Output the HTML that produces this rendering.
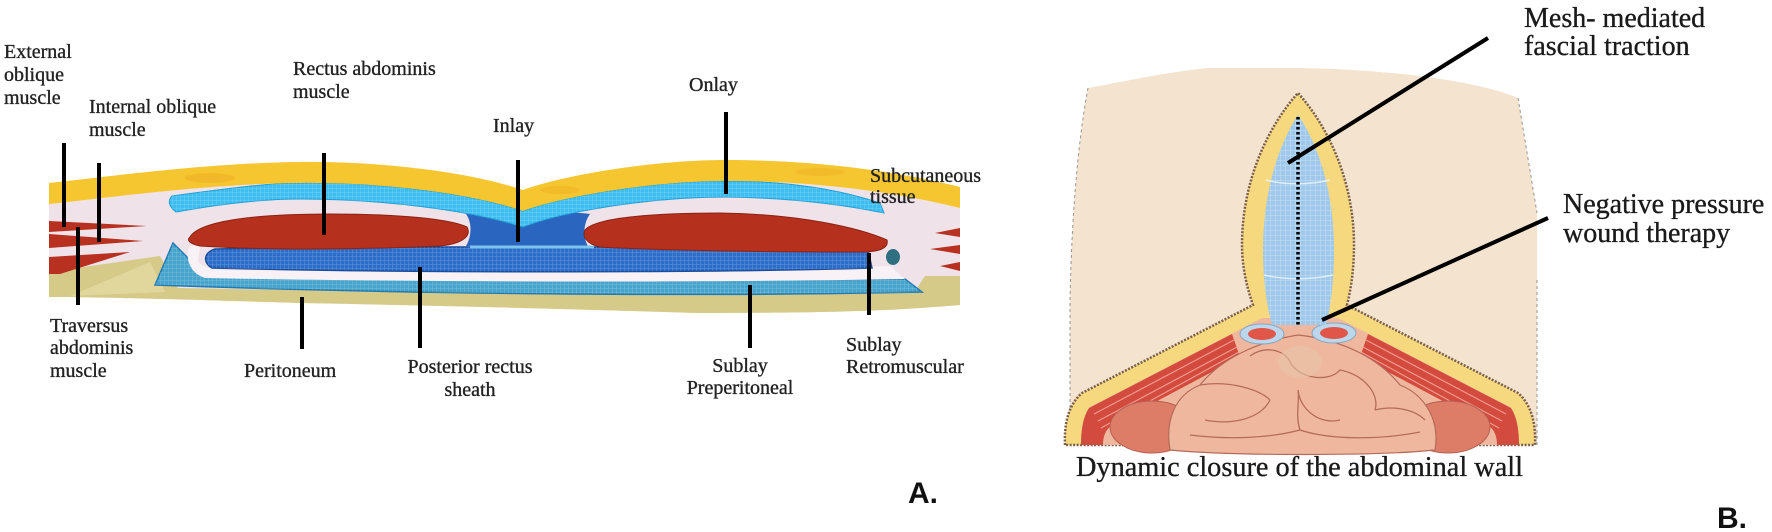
<!DOCTYPE html>
<html>
<head>
<meta charset="utf-8">
<style>
  html,body{margin:0;padding:0;background:#fff;}
  svg{display:block;}
  .lb{font-family:"Liberation Serif",serif;font-size:20px;fill:#222;stroke:#222;stroke-width:0.35;}
  .lb2{font-family:"Liberation Serif",serif;font-size:28px;fill:#1a1a1a;stroke:#1a1a1a;stroke-width:0.35;}
  .tag{font-family:"Liberation Sans",sans-serif;font-size:30px;font-weight:bold;fill:#111;}
</style>
</head>
<body>
<svg width="1772" height="532" viewBox="0 0 1772 532" xmlns="http://www.w3.org/2000/svg">
  <defs>
    <pattern id="mesh" width="4" height="4" patternUnits="userSpaceOnUse">
      <rect width="4" height="4" fill="none"/>
      <path d="M0 0H4M0 0V4" stroke="#ffffff" stroke-opacity="0.25" stroke-width="1"/>
    </pattern>
    <pattern id="meshb" width="5" height="5" patternUnits="userSpaceOnUse">
      <path d="M0 0H5M0 0V5" stroke="#e6f2fb" stroke-opacity="0.55" stroke-width="1"/>
    </pattern>
  </defs>

  <!-- ================= PANEL A ================= -->
  <path d="M49,200 C100,199 200,184 300,183 C380,182 470,193 523,211 C560,197 650,181 726,181 C820,181 900,193 960,207 L960,305 C900,310 850,313 700,313 C600,310 460,306 300,303 C200,300 100,297 49,297 Z" fill="#efe2e9"/>
  <path d="M49,272 L160,256 L178,288 C400,292 700,296 915,291 L925,276 L960,276 L960,305 C900,310 850,313 700,313 C600,310 460,306 300,303 C200,300 100,297 49,297 Z" fill="#d5ca88"/>
  <path d="M70,296 L150,262 L165,292 Z" fill="#e3d9a2" opacity="0.8"/>
  <path d="M173,243 L192,262 L205,277 C400,280 700,282 905,279 L922,292 C700,297 400,294 155,285 Z" fill="#47a4cc" stroke="#1f79b0" stroke-width="1.5"/>
  <path d="M173,243 L192,262 L205,277 C400,280 700,282 905,279 L922,292 C700,297 400,294 155,285 Z" fill="url(#mesh)"/>
  <path d="M198,262 C205,268 215,270 230,270 C400,272 700,273 890,266 L905,279 C700,283 400,282 205,278 C192,274 186,262 188,250 C190,245 196,244 200,246 Z" fill="#f8f2f6"/>
  <path d="M215,249 C400,246 700,246 868,250 L872,268 C700,273 400,273 212,268 C203,263 203,253 215,249 Z" fill="#2b6dc9" stroke="#1a4c9c" stroke-width="1.5"/>
  <path d="M215,249 C400,246 700,246 868,250 L872,268 C700,273 400,273 212,268 C203,263 203,253 215,249 Z" fill="url(#mesh)"/>
  <path d="M466,214 C490,210 560,210 590,214 C584,222 582,236 588,246 L466,246 C472,236 472,222 466,214 Z" fill="#2a66c0"/>
  <path d="M470,247 L594,247" stroke="#7cc4ee" stroke-width="3"/>
  <path d="M190,237 C200,220 260,214 330,214 C400,214 450,219 467,227 C472,236 462,244 440,246 C350,250 260,250 200,246 C190,244 186,240 190,237 Z" fill="#b5301d" stroke="#8d2214" stroke-width="1"/>
  <path d="M585,230 C595,218 650,213 720,213 C800,214 860,228 887,240 C889,248 880,252 860,252 C750,252 650,250 600,247 C586,244 582,236 585,230 Z" fill="#b5301d" stroke="#8d2214" stroke-width="1"/>
  <path d="M49,221 L147,226 L49,232 Z" fill="#b83020"/>
  <path d="M49,234 L143,241 L49,248 Z" fill="#b83020"/>
  <path d="M49,257 L130,252 L60,274 L49,274 Z" fill="#b83020"/>
  <path d="M960,228 L935,233 L960,237 Z" fill="#b83020"/>
  <path d="M960,245 L930,249 L960,254 Z" fill="#b83020"/>
  <path d="M960,262 L940,266 L960,271 Z" fill="#b83020"/>
  <ellipse cx="893" cy="257" rx="7" ry="8" fill="#2e6f80"/>
  <path d="M172,196 C230,188 270,183 300,183 C380,182 470,193 523,211 C560,197 650,181 726,181 C800,181 850,193 880,203 L884,213 C850,206 800,198 726,197 C650,197 560,212 523,227 C470,210 380,199 300,199 C260,199 220,204 176,212 C168,206 168,200 172,196 Z" fill="#3dbdf0" stroke="#1e9fd6" stroke-width="1"/>
  <path d="M172,196 C230,188 270,183 300,183 C380,182 470,193 523,211 C560,197 650,181 726,181 C800,181 850,193 880,203 L884,213 C850,206 800,198 726,197 C650,197 560,212 523,227 C470,210 380,199 300,199 C260,199 220,204 176,212 C168,206 168,200 172,196 Z" fill="url(#mesh)"/>
  <path d="M49,183 C100,178 200,163 300,162 C380,161 470,172 523,190 C560,176 650,160 726,160 C820,160 900,172 960,187 L960,208 C900,193 820,181 726,181 C650,181 560,197 523,211 C470,193 380,182 300,183 C200,184 100,199 49,204 Z" fill="#f6c631"/>
  <ellipse cx="210" cy="178" rx="25" ry="5" fill="#eeb024" opacity="0.6"/>
  <ellipse cx="560" cy="190" rx="20" ry="4" fill="#eeb024" opacity="0.5"/>
  <ellipse cx="820" cy="172" rx="25" ry="4" fill="#eeb024" opacity="0.5"/>

  <g stroke="#000" stroke-width="4" stroke-linecap="butt">
    <line x1="64" y1="143" x2="64" y2="227"/>
    <line x1="99" y1="163" x2="99" y2="242"/>
    <line x1="78" y1="227" x2="78" y2="305"/>
    <line x1="324" y1="153" x2="324" y2="235"/>
    <line x1="518" y1="160" x2="518" y2="242"/>
    <line x1="726" y1="112" x2="726" y2="194"/>
    <line x1="302" y1="297" x2="302" y2="349"/>
    <line x1="420" y1="267" x2="420" y2="348"/>
    <line x1="750" y1="285" x2="750" y2="348"/>
    <line x1="869" y1="253" x2="869" y2="315"/>
  </g>

  <text class="lb" x="4" y="58">External</text>
  <text class="lb" x="4" y="81">oblique</text>
  <text class="lb" x="4" y="104">muscle</text>
  <text class="lb" x="89" y="113">Internal oblique</text>
  <text class="lb" x="89" y="136">muscle</text>
  <text class="lb" x="293" y="75">Rectus abdominis</text>
  <text class="lb" x="293" y="98">muscle</text>
  <text class="lb" x="493" y="132">Inlay</text>
  <text class="lb" x="689" y="91">Onlay</text>
  <text class="lb" x="870" y="182">Subcutaneous</text>
  <text class="lb" x="870" y="203">tissue</text>
  <text class="lb" x="50" y="332">Traversus</text>
  <text class="lb" x="50" y="354">abdominis</text>
  <text class="lb" x="50" y="377">muscle</text>
  <text class="lb" x="244" y="377">Peritoneum</text>
  <text class="lb" x="470" y="373" text-anchor="middle">Posterior rectus</text>
  <text class="lb" x="470" y="396" text-anchor="middle">sheath</text>
  <text class="lb" x="740" y="372" text-anchor="middle">Sublay</text>
  <text class="lb" x="740" y="394" text-anchor="middle">Preperitoneal</text>
  <text class="lb" x="846" y="351">Sublay</text>
  <text class="lb" x="846" y="373">Retromuscular</text>
  <text class="tag" x="908" y="503">A.</text>

  <!-- ================= PANEL B ================= -->
  <path d="M1088,88 C1130,80 1170,72 1207,68 L1300,68 C1400,70 1480,82 1518,98 L1537,213 L1537,445 L1070,445 L1070,300 C1072,200 1080,130 1088,88 Z" fill="#f3e3cf"/>
  <path d="M1088,88 C1080,130 1072,200 1070,300 L1070,445" fill="none" stroke="#9a9490" stroke-width="1" stroke-dasharray="3 3"/>
  <path d="M1518,98 L1537,213 M1537,280 L1537,445" fill="none" stroke="#9a9490" stroke-width="1" stroke-dasharray="3 3"/>

  <path d="M1065,445 C1064,425 1068,405 1082,393 L1253,305 C1246,285 1242,265 1242,245 C1242,185 1265,130 1298,93 C1331,130 1354,185 1354,245 C1354,265 1352,285 1347,305 L1518,393 C1532,405 1536,425 1535,445 Z" fill="#f6d97e" stroke="#7a5e4c" stroke-width="2.5" stroke-dasharray="2 1.5"/>
  <path d="M1081,445 C1081,430 1083,415 1090,407 L1262,318 L1338,318 L1510,407 C1517,415 1519,430 1519,445 Z" fill="#efb79e"/>
  <path d="M1232,334 L1089,408 C1083,417 1081,430 1081,445 L1103,445 C1103,437 1105,430 1112,425 L1240,357 Z" fill="#d34a3e"/>
  <path d="M1234,340 L1094,414 M1237,347 L1098,421 M1239,352 L1101,428" stroke="#f09a8c" stroke-width="1.2" fill="none"/>
  <path d="M1368,334 L1511,408 C1517,417 1519,430 1519,445 L1497,445 C1497,437 1495,430 1488,425 L1360,357 Z" fill="#d34a3e"/>
  <path d="M1366,340 L1506,414 M1363,347 L1502,421 M1361,352 L1499,428" stroke="#f09a8c" stroke-width="1.2" fill="none"/>
  <ellipse cx="1152" cy="427" rx="42" ry="26" fill="#dd7c67" stroke="#b45f50" stroke-width="1"/>
  <ellipse cx="1448" cy="427" rx="42" ry="26" fill="#dd7c67" stroke="#b45f50" stroke-width="1"/>
  <path d="M1170,450 C1165,420 1175,395 1200,385 C1220,360 1255,342 1298,335 C1345,340 1380,360 1400,385 C1425,395 1440,420 1435,450 C1380,456 1230,456 1170,450 Z" fill="#efb79e" stroke="#b46c5a" stroke-width="1.2"/>
  <g fill="none" stroke="#b46c5a" stroke-width="1.3">
    <path d="M1200,385 C1230,380 1260,390 1270,400"/>
    <path d="M1250,356 C1265,345 1285,350 1290,362 C1300,380 1330,382 1340,370"/>
    <path d="M1270,400 C1260,420 1230,425 1205,420"/>
    <path d="M1298,390 C1300,410 1320,425 1340,420"/>
    <path d="M1340,370 C1365,375 1380,395 1375,410"/>
    <path d="M1190,435 C1230,440 1270,438 1300,430 C1330,440 1380,440 1420,432"/>
    <path d="M1375,410 C1395,405 1415,410 1425,420"/>
    <path d="M1300,430 C1295,415 1300,400 1298,390"/>
  </g>
  <ellipse cx="1300" cy="362" rx="22" ry="16" fill="#e8c4a8" opacity="0.6"/>
  <ellipse cx="1262" cy="334" rx="22" ry="10" fill="#bcd7ec" stroke="#8aa6c0" stroke-width="1"/>
  <ellipse cx="1262" cy="334" rx="14" ry="6" fill="#e0574a"/>
  <ellipse cx="1334" cy="333" rx="22" ry="10" fill="#bcd7ec" stroke="#8aa6c0" stroke-width="1"/>
  <ellipse cx="1334" cy="333" rx="14" ry="6" fill="#e0574a"/>
  <path d="M1298,115 C1275,150 1263,200 1263,250 C1263,285 1268,310 1272,325 L1326,325 C1330,310 1334,285 1334,250 C1334,200 1322,150 1298,115 Z" fill="#9fc8ea"/>
  <path d="M1298,115 C1275,150 1263,200 1263,250 C1263,285 1268,310 1272,325 L1326,325 C1330,310 1334,285 1334,250 C1334,200 1322,150 1298,115 Z" fill="url(#meshb)"/>
  <path d="M1266,180 C1285,185 1310,185 1330,180 M1264,275 C1285,280 1310,280 1333,275" stroke="#eef6fc" stroke-width="1.5" fill="none" opacity="0.8"/>
  <line x1="1298" y1="117" x2="1298" y2="325" stroke="#000" stroke-width="3.5" stroke-dasharray="2.5 2.5"/>

  <g stroke="#000" stroke-width="4">
    <line x1="1488" y1="38" x2="1288" y2="163"/>
    <line x1="1548" y1="218" x2="1322" y2="320"/>
  </g>

  <text class="lb2" x="1524" y="27">Mesh- mediated</text>
  <text class="lb2" x="1524" y="55">fascial traction</text>
  <text class="lb2" x="1563" y="213">Negative pressure</text>
  <text class="lb2" x="1563" y="242">wound therapy</text>
  <text class="lb2" x="1076" y="476" textLength="447" lengthAdjust="spacingAndGlyphs">Dynamic closure of the abdominal wall</text>
  <text class="tag" x="1717" y="528">B.</text>
</svg>
</body>
</html>
